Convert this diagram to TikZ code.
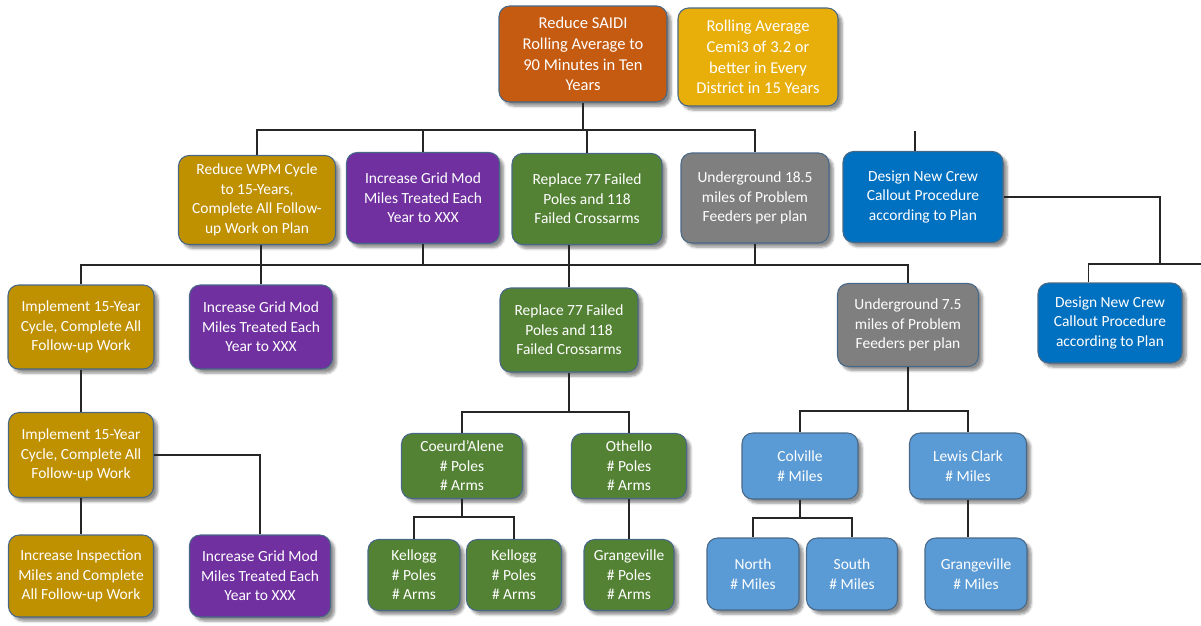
\documentclass[tikz,border=0pt]{standalone}
\usepackage{fontspec}
\setmainfont{Carlito}
\usetikzlibrary{shadows.blur}
\definecolor{rust}{RGB}{197,90,17}
\definecolor{amber}{RGB}{232,174,10}
\definecolor{gold}{RGB}{191,144,0}
\definecolor{plum}{RGB}{112,48,160}
\definecolor{leaf}{RGB}{84,130,53}
\definecolor{slate}{RGB}{127,127,127}
\definecolor{deepblue}{RGB}{0,112,192}
\definecolor{skyblue}{RGB}{91,155,213}
\definecolor{boxedge}{RGB}{72,104,135}
\newcommand\boxfont{\fontsize{11.6}{14.6}\selectfont}
\newcommand\topfont{\fontsize{12.4}{15.6}\selectfont}
\tikzset{
	box/.style={draw=boxedge, line width=0.8pt, rounded corners=8pt, text=white, align=center,
		font=\boxfont, inner sep=2pt,
		blur shadow={shadow xshift=3pt, shadow yshift=-3pt, shadow blur steps=6, shadow opacity=45}},
	wh/.style 2 args={minimum width=#1*0.75pt, minimum height=#2*0.75pt},
	link/.style={line width=1.1pt, draw=black!85},
}

\begin{document}
\begin{tikzpicture}[x=0.75pt, y=-0.75pt]
			%%%%% START %%%%%
			\useasboundingbox (0,0) rectangle (1201,625);
			
			% goals
			\node[box, fill=rust, font=\topfont, wh={168}{96}] (saidi) at (583,54) {Reduce SAIDI\\Rolling Average to\\90 Minutes in Ten\\Years};
			\node[box, fill=amber, font=\topfont, wh={160}{98}] (cemi) at (758,57) {Rolling Average\\Cemi3 of 3.2 or\\better in Every\\District in 15 Years};
			
			% second row
			\node[box, fill=gold, wh={157}{89}] (wpm) at (257,200) {Reduce WPM Cycle\\to 15-Years,\\Complete All Follow-\\up Work on Plan};
			\node[box, fill=plum, wh={153}{91}] (grid) at (423,198) {Increase Grid Mod\\Miles Treated Each\\Year to XXX};
			\node[box, fill=leaf, wh={150}{91}] (repl) at (587,199) {Replace 77 Failed\\Poles and 118\\Failed Crossarms};
			\node[box, fill=slate, wh={148}{90}] (und) at (755,198) {Underground 18.5\\miles of Problem\\Feeders per plan};
			\node[box, fill=deepblue, wh={160}{91}] (des) at (923,197) {Design New Crew\\Callout Procedure\\according to Plan};
			
			% third row
			\node[box, fill=gold, wh={146}{84}] (impl1) at (81,327) {Implement 15-Year\\Cycle, Complete All\\Follow-up Work};
			\node[box, fill=plum, wh={143}{84}] (grid2) at (261,327) {Increase Grid Mod\\Miles Treated Each\\Year to XXX};
			\node[box, fill=leaf, wh={138}{84}] (repl2) at (569,330) {Replace 77 Failed\\Poles and 118\\Failed Crossarms};
			\node[box, fill=slate, wh={141}{83}] (und2) at (908,325) {Underground 7.5\\miles of Problem\\Feeders per plan};
			\node[box, fill=deepblue, wh={144}{80}] (des2) at (1110,323) {Design New Crew\\Callout Procedure\\according to Plan};
			
			% left branch
			\node[box, fill=gold, wh={145}{85}] (impl2) at (81,455) {Implement 15-Year\\Cycle, Complete All\\Follow-up Work};
			\node[box, fill=gold, wh={145}{82}] (insp) at (81,576) {Increase Inspection\\Miles and Complete\\All Follow-up Work};
			\node[box, fill=plum, wh={141}{82}] (grid3) at (260,576) {Increase Grid Mod\\Miles Treated Each\\Year to XXX};
			
			% poles and arms
			\node[box, fill=leaf, wh={121}{65}] (coeur) at (462,466) {Coeurd’Alene\\\# Poles\\\# Arms};
			\node[box, fill=leaf, wh={115}{65}] (oth) at (629,466) {Othello\\\# Poles\\\# Arms};
			\node[box, fill=leaf, wh={92}{71}] (kel1) at (414,575) {Kellogg\\\# Poles\\\# Arms};
			\node[box, fill=leaf, wh={95}{71}] (kel2) at (514,575) {Kellogg\\\# Poles\\\# Arms};
			\node[box, fill=leaf, wh={90}{71}] (grg) at (629,575) {Grangeville\\\# Poles\\\# Arms};
			
			% miles
			\node[box, fill=skyblue, wh={116}{66}] (colv) at (800,466) {Colville\\\# Miles};
			\node[box, fill=skyblue, wh={117}{66}] (lewis) at (968,466) {Lewis Clark\\\# Miles};
			\node[box, fill=skyblue, wh={92}{72}] (north) at (753,574) {North\\\# Miles};
			\node[box, fill=skyblue, wh={91}{72}] (south) at (852,574) {South\\\# Miles};
			\node[box, fill=skyblue, wh={102}{72}] (grb) at (976,574) {Grangeville\\\# Miles};
			
			% bus points
			\coordinate (b1) at (587,130);
			\coordinate (b2) at (569,265);
			\coordinate (stub) at (915,131);
			\coordinate (rb) at (1160,264);
			\coordinate (rend) at (1201,264);
			\coordinate (bg) at (569,412);
			\coordinate (bk) at (462,517);
			\coordinate (bu) at (908,411);
			\coordinate (bc) at (800,518);
			
			% connectors
			\draw[link] (saidi.south) -- (saidi.south |- b1);
			\draw[link] (wpm.north) |- (b1) -| (und.north);
			\draw[link] (grid.north) -- (grid.north |- b1);
			\draw[link] (repl.north) -- (repl.north |- b1);
			\draw[link] (stub) -- (stub |- des.north);
			
			\draw[link] (impl1.north) |- (b2) -| (und2.north);
			\draw[link] (grid2.north) -- (grid2.north |- wpm.south);
			\draw[link] (grid.south) -- (grid.south |- b2);
			\draw[link] (und.south) -- (und.south |- b2);
			\draw[link] (repl2.north) -- (repl2.north |- repl.south);
			
			\draw[link] (des.east) -| (rb) -- (rend);
			\draw[link] ([xshift=-16pt]des2.north) |- (rb);
			
			\draw[link] (impl1) -- (impl2);
			\draw[link] (impl2) -- (insp);
			\draw[link] (impl2.east) -| (grid3.north);
			
			\draw[link] (repl2.south) -- (bg);
			\draw[link] (coeur.north) |- (bg) -| (oth.north);
			\draw[link] (coeur.south) -- (bk);
			\draw[link] (kel1.north) |- (bk) -| (kel2.north);
			\draw[link] (oth) -- (grg);
			
			\draw[link] (und2.south) -- (bu);
			\draw[link] (colv.north) |- (bu) -| (lewis.north);
			\draw[link] (colv.south) -- (bc);
			\draw[link] (north.north) |- (bc) -| (south.north);
			\draw[link] (lewis.south) -- (lewis.south |- grb.north);
			
			%%%%% END %%%%%
\end{tikzpicture}
\end{document}
